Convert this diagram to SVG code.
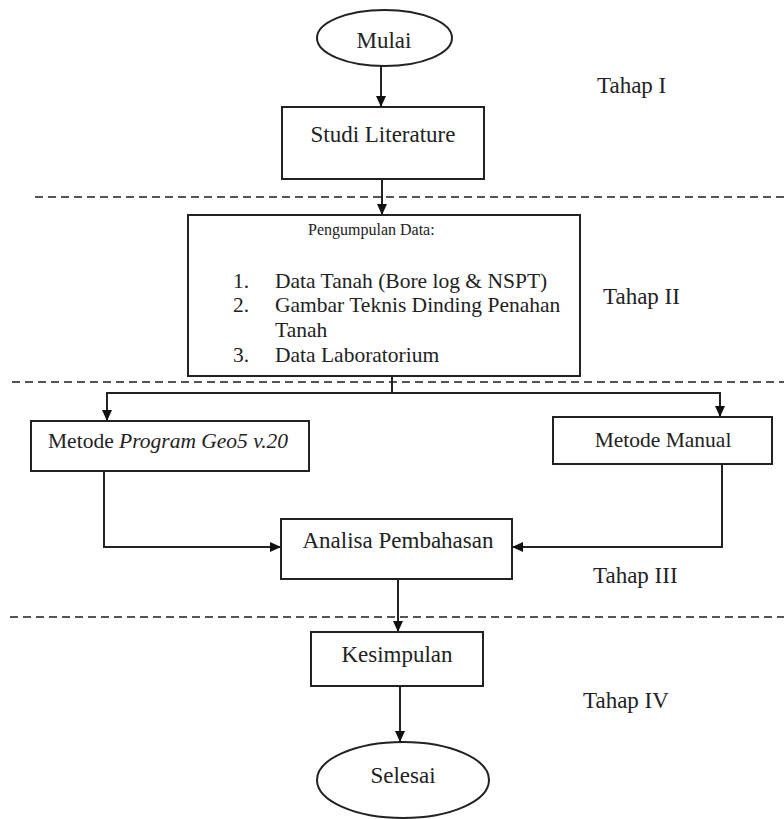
<svg xmlns="http://www.w3.org/2000/svg" width="784" height="819" viewBox="0 0 784 819">
<style>
  .box{fill:#fff;stroke:#222;stroke-width:2}
  .t{fill:#222}
  .c{text-anchor:middle}
  .edge{fill:none;stroke:#222;stroke-width:2}
  .dash{fill:none;stroke:#555;stroke-width:2.2;stroke-dasharray:8 5}
</style>
<defs>
  <marker id="arr" markerUnits="userSpaceOnUse" markerWidth="12" markerHeight="10" refX="11" refY="5" orient="auto">
    <path d="M0,0 L11,5 L0,10 z" fill="#111"/>
  </marker>
</defs>
<rect width="784" height="819" fill="#fff"/>

<g id="separators">
  <line class="dash" x1="35" y1="197" x2="784" y2="197"/>
  <line class="dash" x1="12" y1="382" x2="784" y2="382"/>
  <line class="dash" x1="10" y1="617" x2="784" y2="617"/>
</g>

<g id="connectors">
  <line class="edge" x1="381" y1="66" x2="381" y2="107" marker-end="url(#arr)"/>
  <line class="edge" x1="382" y1="179" x2="382" y2="215" marker-end="url(#arr)"/>
  <line class="edge" x1="392" y1="376" x2="392" y2="393"/>
  <polyline class="edge" points="107,393 720,393"/>
  <line class="edge" x1="107" y1="392" x2="107" y2="421" marker-end="url(#arr)"/>
  <line class="edge" x1="720" y1="392" x2="720" y2="417" marker-end="url(#arr)"/>
  <polyline class="edge" points="104,471 104,547 281,547" marker-end="url(#arr)"/>
  <polyline class="edge" points="722,464 722,547 512,547" marker-end="url(#arr)"/>
  <line class="edge" x1="398" y1="579" x2="398" y2="632" marker-end="url(#arr)"/>
  <line class="edge" x1="400" y1="686" x2="400" y2="742" marker-end="url(#arr)"/>
</g>

<g font-family="Liberation Serif, Tinos, Times New Roman, serif">
<g id="mulai">
  <ellipse class="box" cx="384.5" cy="38" rx="67.5" ry="28"/>
  <text class="t c" x="384" y="48" font-size="23">Mulai</text>
</g>

<g id="studi">
  <rect class="box" x="282" y="107" width="202" height="72"/>
  <text class="t c" x="383" y="142" font-size="23">Studi Literature</text>
</g>

<g id="pengumpulan">
  <rect class="box" x="188" y="215" width="392" height="161"/>
  <text class="t" x="308" y="235" font-size="16">Pengumpulan Data:</text>
  <text class="t" x="233" y="288" font-size="21.5">1.</text>
  <text class="t" x="275" y="288" font-size="21.5">Data Tanah (Bore log &amp; NSPT)</text>
  <text class="t" x="233" y="312" font-size="21.5">2.</text>
  <text class="t" x="275" y="312" font-size="21.5">Gambar Teknis Dinding Penahan</text>
  <text class="t" x="275" y="337" font-size="21.5">Tanah</text>
  <text class="t" x="233" y="362" font-size="21.5">3.</text>
  <text class="t" x="275" y="362" font-size="21.5">Data Laboratorium</text>
</g>

<g id="metode-program">
  <rect class="box" x="31" y="421" width="278" height="50"/>
  <text class="t" x="48" y="448" font-size="21.5">Metode <tspan font-style="italic">Program Geo5 v.20</tspan></text>
</g>

<g id="metode-manual">
  <rect class="box" x="553" y="417" width="219" height="47"/>
  <text class="t c" x="663" y="447" font-size="21.5">Metode Manual</text>
</g>

<g id="analisa">
  <rect class="box" x="281" y="519" width="231" height="60"/>
  <text class="t c" x="398" y="548" font-size="23">Analisa Pembahasan</text>
</g>

<g id="kesimpulan">
  <rect class="box" x="311" y="632" width="172" height="54"/>
  <text class="t c" x="397" y="662" font-size="23">Kesimpulan</text>
</g>

<g id="selesai">
  <ellipse class="box" cx="403" cy="780" rx="86" ry="38"/>
  <text class="t c" x="403" y="783" font-size="23">Selesai</text>
</g>

<g id="labels">
  <text class="t" x="597" y="93" font-size="23">Tahap I</text>
  <text class="t" x="603" y="304" font-size="23">Tahap II</text>
  <text class="t" x="593" y="583" font-size="23">Tahap III</text>
  <text class="t" x="583" y="708" font-size="23">Tahap IV</text>
</g>
</g>
</svg>
